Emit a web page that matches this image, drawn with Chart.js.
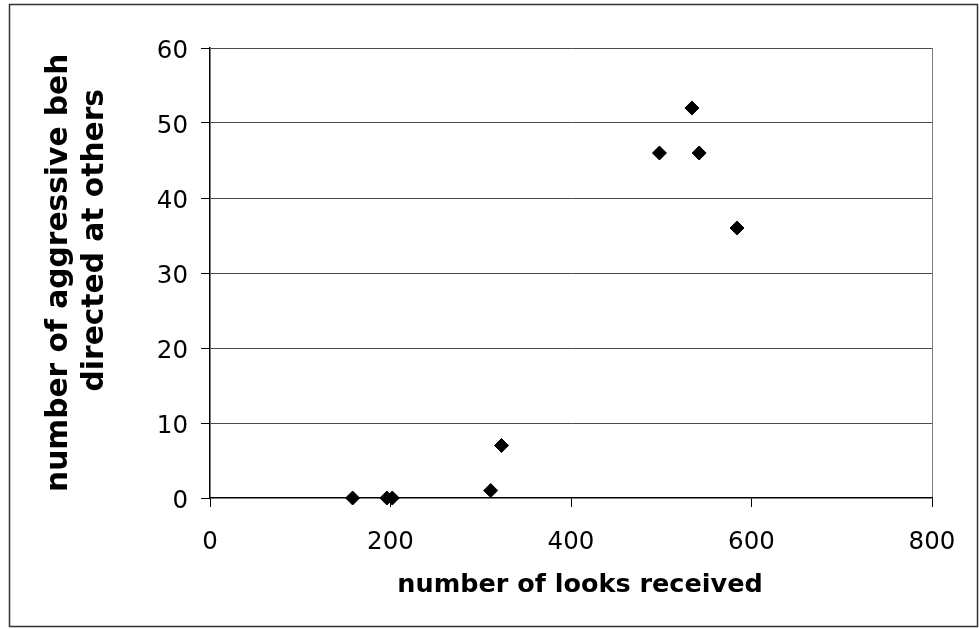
<!DOCTYPE html>
<html>
<head>
<meta charset="utf-8">
<script src="https://cdn.jsdelivr.net/npm/chart.js@4"></script>
<style>
  html, body { margin: 0; padding: 0; background: #fff; }
  #wrap { width: 979px; height: 629px; position: relative; }
</style>
</head>
<body>
<div id="wrap"><canvas id="c" width="979" height="629"></canvas></div>
<script>
// Looks received vs. aggressive behaviours directed at others, one point per individual
const looksReceived  = [158, 196, 202, 311, 323, 498, 534, 542, 584];
const aggressiveActs = [0, 0, 0, 1, 7, 46, 52, 46, 36];
const xTickValues = [0, 200, 400, 600, 800];
const yTickValues = [0, 10, 20, 30, 40, 50, 60];
const xTitle = 'number of looks received';
const yTitleLines = ['number of aggressive beh', 'directed at others'];

const FONT = "'DejaVu Sans', Verdana, sans-serif";

const points = looksReceived.map((x, i) => ({ x, y: aggressiveActs[i] }));

// Outer frame and the two axis titles
const frameAndTitles = {
  id: 'frameAndTitles',
  afterDraw(chart) {
    const { ctx, chartArea } = chart;
    ctx.save();
    ctx.strokeStyle = '#333';
    ctx.lineWidth = 1.5;
    ctx.strokeRect(9.5, 4.5, 968, 622);

    ctx.fillStyle = '#000';
    // x-axis title
    ctx.font = 'bold 25.5px ' + FONT;
    ctx.textAlign = 'center';
    ctx.textBaseline = 'alphabetic';
    ctx.fillText(xTitle, (chartArea.left + chartArea.right) / 2 + 9, chartArea.bottom + 94);

    // y-axis title, two rotated lines
    ctx.font = 'bold 29.7px ' + FONT;
    ctx.save();
    ctx.translate(67, chartArea.bottom - 6);
    ctx.rotate(-Math.PI / 2);
    ctx.textAlign = 'left';
    ctx.fillText(yTitleLines[0], 0, 0);
    ctx.restore();

    ctx.save();
    ctx.translate(103, chartArea.top + 41);
    ctx.rotate(-Math.PI / 2);
    ctx.textAlign = 'right';
    ctx.fillText(yTitleLines[1], 0, 0);
    ctx.restore();

    ctx.restore();
  }
};

new Chart(document.getElementById('c'), {
  type: 'scatter',
  data: {
    datasets: [{
      data: points,
      pointStyle: 'rectRot',
      pointRadius: 7,
      pointHoverRadius: 7,
      backgroundColor: '#000',
      borderColor: '#000',
      borderWidth: 1,
      clip: false
    }]
  },
  options: {
    responsive: false,
    animation: false,
    devicePixelRatio: 1,
    layout: { padding: { left: 0, top: 48, right: 47, bottom: 0 } },
    plugins: {
      legend: { display: false },
      tooltip: { enabled: false },
      title: { display: false }
    },
    scales: {
      x: {
        type: 'linear',
        min: 0,
        max: 800,
        afterBuildTicks: s => { s.ticks = xTickValues.map(v => ({ value: v })); },
        afterFit: s => { s.height = 131; },
        ticks: {
          color: '#000',
          font: { family: FONT, size: 24.5 },
          padding: 21,
          maxRotation: 0,
          autoSkip: false
        },
        grid: {
          color: c => (c.tick && c.tick.value === 800) ? '#7a7a7a' : 'rgba(0,0,0,0)',
          tickColor: '#000',
          tickLength: 9,
          lineWidth: 1
        },
        border: { color: '#000', width: 1.5 }
      },
      y: {
        type: 'linear',
        min: 0,
        max: 60,
        afterBuildTicks: s => { s.ticks = yTickValues.map(v => ({ value: v })); },
        afterFit: s => { s.width = 210; },
        ticks: {
          color: '#000',
          font: { family: FONT, size: 24.5 },
          padding: 13,
          labelOffset: 4,
          autoSkip: false
        },
        grid: {
          color: c => (c.tick && c.tick.value === 0) ? 'rgba(0,0,0,0)' : '#4a4a4a',
          tickColor: '#000',
          tickLength: 9,
          lineWidth: 1
        },
        border: { color: '#000', width: 1.5 }
      }
    }
  },
  plugins: [frameAndTitles]
});
</script>
</body>
</html>
